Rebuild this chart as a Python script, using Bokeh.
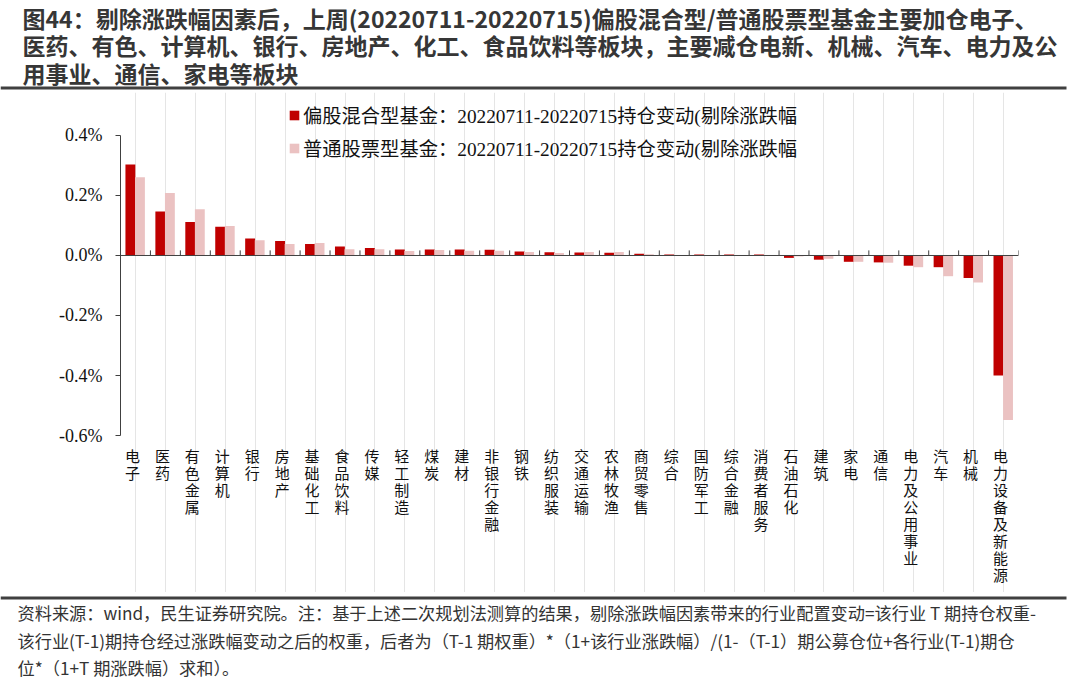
from bokeh.plotting import figure
from bokeh.layouts import column
from bokeh.models import (FactorRange, Range1d, FixedTicker, PrintfTickFormatter, Span,
                          Legend, LegendItem, Label, BoxAnnotation, ColumnDataSource)
from bokeh.core.properties import value
from bokeh.transform import dodge
from bokeh.embed import file_html
from bokeh.resources import INLINE

categories = ["电子", "医药", "有色金属", "计算机", "银行", "房地产", "基础化工", "食品饮料", "传媒",
              "轻工制造", "煤炭", "建材", "非银行金融", "钢铁", "纺织服装", "交通运输", "农林牧渔",
              "商贸零售", "综合", "国防军工", "综合金融", "消费者服务", "石油石化", "建筑", "家电",
              "通信", "电力及公用事业", "汽车", "机械", "电力设备及新能源"]
mixed_fund = [0.303, 0.147, 0.112, 0.096, 0.057, 0.048, 0.038, 0.030, 0.025, 0.020, 0.020, 0.020,
              0.019, 0.013, 0.011, 0.010, 0.009, 0.006, 0.003, 0.003, 0.003, 0.003, -0.008, -0.014,
              -0.021, -0.023, -0.034, -0.039, -0.075, -0.400]
stock_fund = [0.261, 0.208, 0.154, 0.098, 0.051, 0.038, 0.042, 0.021, 0.021, 0.015, 0.018, 0.016,
              0.016, 0.012, 0.008, 0.012, 0.012, 0.004, 0.001, 0.002, 0.002, 0.002, -0.003, -0.011,
              -0.021, -0.024, -0.039, -0.069, -0.090, -0.548]
y_ticks = [-0.6, -0.4, -0.2, 0.0, 0.2, 0.4]
legend_labels = ["偏股混合型基金：20220711-20220715持仓变动(剔除涨跌幅",
                 "普通股票型基金：20220711-20220715持仓变动(剔除涨跌幅"]
title_lines = ["图44：剔除涨跌幅因素后，上周(20220711-20220715)偏股混合型/普通股票型基金主要加仓电子、",
               "医药、有色、计算机、银行、房地产、化工、食品饮料等板块，主要减仓电新、机械、汽车、电力及公",
               "用事业、通信、家电等板块"]
footer_lines = ["资料来源：wind，民生证券研究院。注：基于上述二次规划法测算的结果，剔除涨跌幅因素带来的行业配置变动=该行业 T 期持仓权重-",
                "该行业(T-1)期持仓经过涨跌幅变动之后的权重，后者为（T-1 期权重）*（1+该行业涨跌幅）/(1-（T-1）期公募仓位+各行业(T-1)期仓",
                "位*（1+T 期涨跌幅）求和）。"]

RED = "#C00000"
PINK = "#EBC2C2"
AXIS = "#404040"
SERIF = "'Liberation Serif', 'Noto Sans CJK SC'"
CJK = "'Noto Sans CJK SC'"
W = 1080


def text_panel(height):
    f = figure(width=W, height=height, output_backend="svg", toolbar_location=None,
               x_range=Range1d(0, W), y_range=Range1d(height, 0),
               x_axis_location=None, y_axis_location=None, frame_align=False,
               min_border=0, min_border_left=0, min_border_right=0,
               min_border_top=0, min_border_bottom=0)
    f.outline_line_color = None
    f.grid.visible = False
    f.background_fill_color = "white"
    f.border_fill_color = "white"
    return f


# ---- title panel ----
top = text_panel(92)
for i, t in enumerate(title_lines):
    top.add_layout(Label(x=22, y=17 + 27.5 * i, text=t, text_baseline="middle", text_align="left",
                         text_font=CJK, text_font_size="23px", text_font_style="bold",
                         text_color="#363636"))
top.add_layout(BoxAnnotation(left=0, right=1066, top=86, bottom=89,
                             fill_color=AXIS, fill_alpha=1, line_color=None))

# ---- main chart ----
H_MAIN = 500
p = figure(width=W, height=H_MAIN, output_backend="svg", toolbar_location=None,
           x_range=FactorRange(*categories, range_padding=0),
           y_range=Range1d(-1.1233, 0.5433), x_axis_location=None, frame_align=False,
           min_border_left=120, min_border_right=62, min_border_top=0, min_border_bottom=0)
p.outline_line_color = None
p.ygrid.grid_line_color = None
p.background_fill_color = "white"
p.border_fill_color = "white"

data = ColumnDataSource(dict(cat=categories, mixed=mixed_fund, stock=stock_fund))
r1 = p.vbar(x=dodge("cat", -0.17, range=p.x_range), top="mixed", bottom=0, width=0.33,
            source=data, fill_color=RED, line_color=None)
r2 = p.vbar(x=dodge("cat", 0.15, range=p.x_range), top="stock", bottom=0, width=0.33,
            source=data, fill_color=PINK, line_color=None)

# zero line and category separators
p.add_layout(Span(location=0, dimension="width", line_color=AXIS, line_width=1))
p.segment(x0=dodge("cat", 0.5, range=p.x_range), x1=dodge("cat", 0.5, range=p.x_range),
          y0=0, y1=0.017, source=data, line_color=AXIS, line_width=1)

# y axis
ya = p.yaxis[0]
ya.ticker = FixedTicker(ticks=y_ticks)
ya.formatter = PrintfTickFormatter(format="%.1f%%")
ya.bounds = (-0.6, 0.4)
ya.axis_line_color = AXIS
ya.major_tick_line_color = AXIS
ya.major_tick_out = 5
ya.major_tick_in = 0
ya.minor_tick_line_color = None
ya.major_label_standoff = 13
ya.major_label_text_font = SERIF
ya.major_label_text_font_size = "18px"
ya.major_label_text_color = "#111111"

# category labels: characters stacked vertically below the plot
PX = 300.0  # pixels per 1% on the value scale
max_len = max(len(c) for c in categories)
for j in range(max_len):
    xs = [c for c in categories if len(c) > j]
    chars = [c[j] for c in categories if len(c) > j]
    yj = -(455 + 17 * j - 255) / PX
    src = ColumnDataSource(dict(cat=xs, y=[yj] * len(xs), t=chars))
    p.text(x=dodge("cat", -0.1, range=p.x_range), y="y", text="t", source=src,
           text_align="center", text_baseline="middle",
           text_font=value(CJK), text_font_size="15px", text_color="#111111")

legend = Legend(items=[LegendItem(label=legend_labels[0], renderers=[r1]),
                       LegendItem(label=legend_labels[1], renderers=[r2])],
                location=(168, 430), orientation="vertical",
                glyph_width=12, glyph_height=12, label_standoff=3, label_height=20,
                spacing=5, padding=0, margin=0, border_line_color=None,
                background_fill_alpha=0, label_text_font=SERIF, label_text_font_size="19.3px",
                label_text_color="#111111")
p.add_layout(legend, "center")

# ---- footer panel ----
foot = text_panel(101)
foot.add_layout(BoxAnnotation(left=0, right=1066, top=4, bottom=7,
                              fill_color=AXIS, fill_alpha=1, line_color=None))
for i, t in enumerate(footer_lines):
    foot.add_layout(Label(x=17, y=20 + 27.5 * i, text=t, text_baseline="middle", text_align="left",
                          text_font=CJK, text_font_size="17.2px", text_color="#333333"))

page = column(top, p, foot, spacing=0)
open("out.html", "w").write(file_html(page, INLINE))
